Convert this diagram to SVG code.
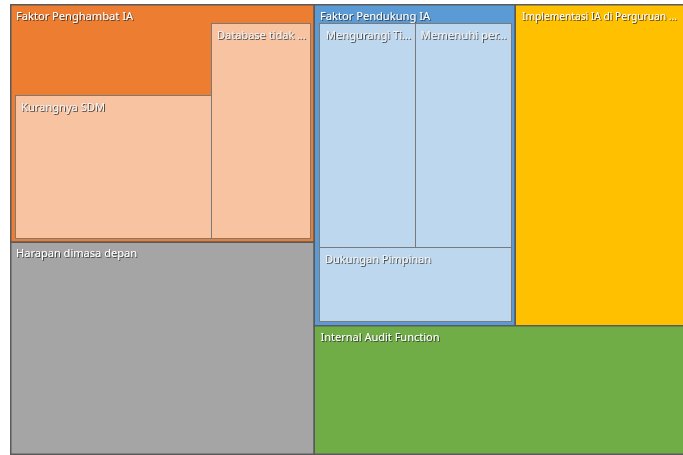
<svg xmlns="http://www.w3.org/2000/svg" width="683" height="455" viewBox="0 0 683 455">
<defs>
<filter id="sh" x="-10%" y="-50%" width="120%" height="200%">
<feDropShadow dx="0.9" dy="0.9" stdDeviation="0.45" flood-color="#2a2a2a" flood-opacity="0.85"/>
</filter>
</defs>
<style>
.top{stroke:#5a5a5a;stroke-width:1.5}
.in{stroke:#7a7a7a;stroke-width:1}
.lbl{font-family:"Noto Sans","Open Sans","Liberation Sans",sans-serif;font-size:11px;fill:#ffffff;filter:url(#sh)}
.ilbl{font-family:"Noto Sans","Open Sans","Liberation Sans",sans-serif;font-size:11px;fill:#f4f4f4;filter:url(#sh)}
</style>
<rect x="0" y="0" width="683" height="455" fill="#ffffff"/>
<g id="penghambat">
<rect class="top" x="10.75" y="4.75" width="303.5" height="237.5" fill="#ED7D31"/>
<text class="lbl" x="16" y="19.5" textLength="117" lengthAdjust="spacingAndGlyphs">Faktor Penghambat IA</text>
<g id="database">
<rect class="in" x="211.5" y="23.5" width="99" height="215" fill="#F8C3A1"/>
<text class="ilbl" x="217" y="38.5" textLength="89" lengthAdjust="spacingAndGlyphs">Database tidak ...</text>
</g>
<g id="kurangnya">
<rect class="in" x="15.5" y="95.5" width="196" height="143" fill="#F8C3A1"/>
<text class="ilbl" x="21" y="111" textLength="84" lengthAdjust="spacingAndGlyphs">Kurangnya SDM</text>
</g>
</g>
<g id="harapan">
<rect class="top" x="10.75" y="242.25" width="303.5" height="212" fill="#A5A5A5"/>
<text class="lbl" x="16" y="257" textLength="121" lengthAdjust="spacingAndGlyphs">Harapan dimasa depan</text>
</g>
<g id="pendukung">
<rect class="top" x="314.25" y="4.75" width="201" height="321" fill="#5B9BD5"/>
<text class="lbl" x="320" y="19.5" textLength="110" lengthAdjust="spacingAndGlyphs">Faktor Pendukung IA</text>
<g id="mengurangi">
<rect class="in" x="319.5" y="23.5" width="96" height="224" fill="#BDD7EE"/>
<text class="ilbl" x="326" y="38.5" textLength="85" lengthAdjust="spacingAndGlyphs">Mengurangi Ti...</text>
</g>
<g id="memenuhi">
<rect class="in" x="415.5" y="23.5" width="96" height="224" fill="#BDD7EE"/>
<text class="ilbl" x="420.5" y="38.5" textLength="86" lengthAdjust="spacingAndGlyphs">Memenuhi per...</text>
</g>
<g id="dukungan">
<rect class="in" x="319.5" y="247.5" width="192" height="74" fill="#BDD7EE"/>
<text class="ilbl" x="325" y="262.5" textLength="106" lengthAdjust="spacingAndGlyphs">Dukungan Pimpinan</text>
</g>
</g>
<g id="implementasi">
<rect class="top" x="515.25" y="4.75" width="170" height="321" fill="#FFC000"/>
<text class="lbl" x="522" y="19.5" style="font-size:10px" textLength="155" lengthAdjust="spacingAndGlyphs">Implementasi IA di Perguruan ...</text>
</g>
<g id="internal">
<rect class="top" x="314.25" y="325.75" width="370" height="128.5" fill="#70AD47"/>
<text class="lbl" x="320.5" y="340.5" textLength="119" lengthAdjust="spacingAndGlyphs">Internal Audit Function</text>
</g>
</svg>
